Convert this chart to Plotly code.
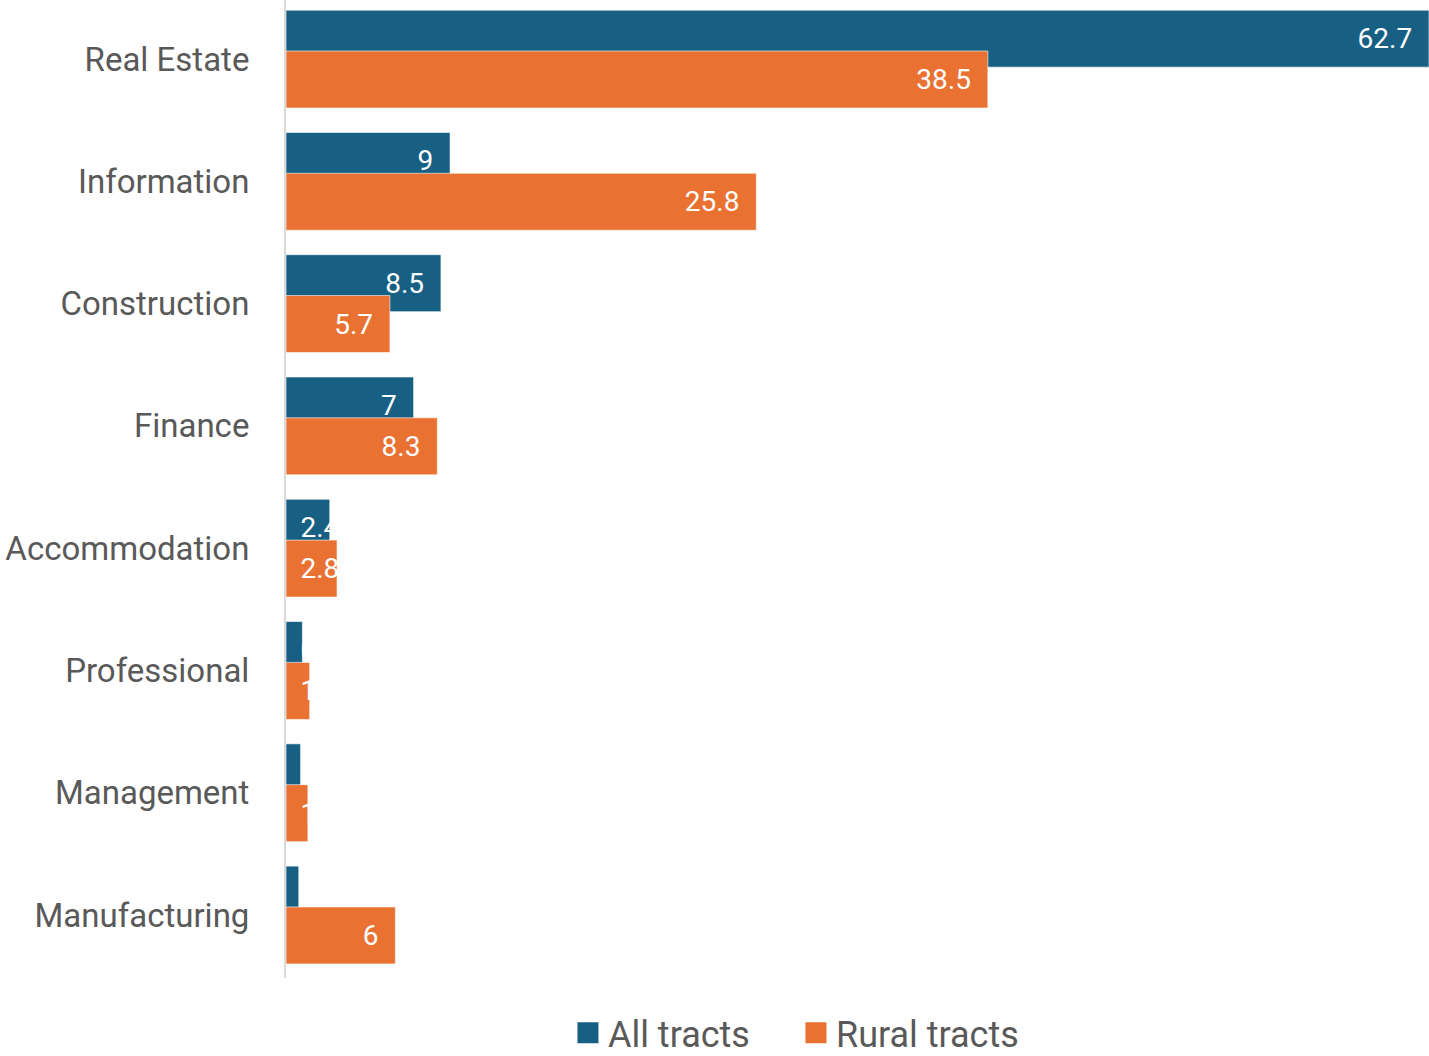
import plotly.graph_objects as go

categories = ["Real Estate", "Information", "Construction", "Finance",
              "Accommodation", "Professional", "Management", "Manufacturing"]
all_tracts = [62.7, 9, 8.5, 7, 2.4, 0.9, 0.8, 0.7]
rural_tracts = [38.5, 25.8, 5.7, 8.3, 2.8, 1.3, 1.2, 6]
series_names = ["All tracts", "Rural tracts"]

BLUE = "#176083"
ORANGE = "#E97132"
GREY = "#595959"
FONT = "Roboto, 'Open Sans', sans-serif"

BAR_W = 0.466
OFFSETS = [-0.4, 0.4 - BAR_W]
SMALL = 4.0  # labels that don't fit are anchored at the bar start (Excel-like)


def fmt(v):
    return ("%g" % v)


fig = go.Figure()
for name, vals, color, off in zip(series_names, [all_tracts, rural_tracts],
                                  [BLUE, ORANGE], OFFSETS):
    for small in (False, True):
        ys = [c for c, v in zip(categories, vals) if (v < SMALL) == small]
        xs = [v for v in vals if (v < SMALL) == small]
        if not xs:
            continue
        if small:
            txt = ["\u2009\u2009" + fmt(v) for v in xs]
            anchor = "start"
        else:
            txt = [fmt(v) + "\u00a0\u00a0" for v in xs]
            anchor = "end"
        fig.add_trace(go.Bar(
            x=xs, y=ys, orientation="h", name=name,
            marker=dict(color=color, line=dict(color="rgba(255,255,255,0.6)", width=1)),
            offset=off, width=BAR_W,
            text=txt, textposition="inside", insidetextanchor=anchor,
            constraintext="none", textangle=0,
            textfont=dict(family=FONT, size=28, color="white"),
            showlegend=False, hoverinfo="x+y",
        ))

# legend entries
for name, color in zip(series_names, [BLUE, ORANGE]):
    fig.add_trace(go.Scatter(
        x=[None], y=[None], mode="markers", name=name,
        marker=dict(symbol="square", size=16, color=color,
                    line=dict(color=color, width=5)),
        showlegend=True,
    ))

fig.update_layout(
    barmode="overlay",
    width=1429, height=1056,
    margin=dict(l=286, r=0, t=0, b=78, pad=0),
    paper_bgcolor="white", plot_bgcolor="white",
    font=dict(family=FONT, color=GREY),
    xaxis=dict(range=[0, 62.7], visible=False, fixedrange=True),
    yaxis=dict(type="category", categoryorder="array", categoryarray=categories,
               range=[7.515, -0.483], showline=True, linecolor="#d9d9d9",
               linewidth=2, showgrid=False, ticks="", zeroline=False,
               tickfont=dict(family=FONT, size=33, color=GREY),
               ticklabelstandoff=28),
    legend=dict(orientation="h", xref="container", yref="container",
                x=0.557, xanchor="center", y=0.022, yanchor="middle",
                font=dict(family=FONT, size=36, color=GREY),
                entrywidth=183, entrywidthmode="pixels",
                bgcolor="rgba(0,0,0,0)"),
    showlegend=True,
)

fig.write_html("out.html")
